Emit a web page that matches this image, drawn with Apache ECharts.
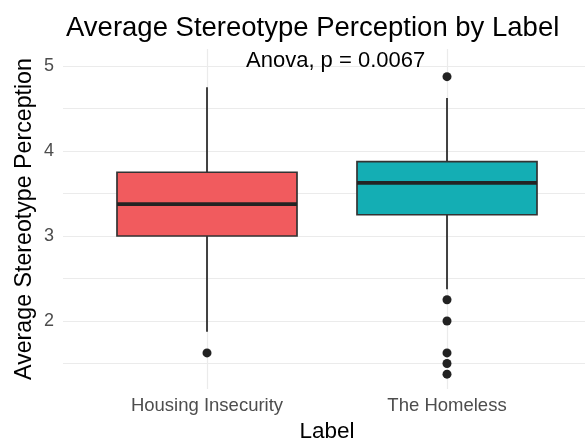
<!DOCTYPE html>
<html><head><meta charset="utf-8">
<script src="https://cdn.jsdelivr.net/npm/echarts@6/dist/echarts.min.js"></script>
<style>html,body{margin:0;padding:0;background:#fff}#c{width:585px;height:440px}</style>
</head><body><div id="c"></div>
<script>
const categories = ['Housing Insecurity', 'The Homeless'];
const whiskerLow = [1.875, 2.375];
const q1 = [3.0, 3.25];
const median = [3.375, 3.625];
const q3 = [3.75, 3.875];
const whiskerHigh = [4.75, 4.625];
const outliersHousing = [1.625];
const outliersHomeless = [4.875, 2.25, 2.0, 1.625, 1.5, 1.375];
const yTicks = [2, 3, 4, 5];
const yGrid = [1.5, 2, 2.5, 3, 3.5, 4, 4.5, 5];
const fills = ['#F15B5E', '#14AEB4'];

const boxData = categories.map((c, i) => [i, whiskerLow[i], q1[i], median[i], q3[i], whiskerHigh[i]]);
const outlierData = [];
outliersHousing.forEach(v => outlierData.push([0, v]));
outliersHomeless.forEach(v => outlierData.push([1, v]));

const FONT = '"Liberation Sans", Arial, sans-serif';
const chart = echarts.init(document.getElementById('c'));
chart.setOption({
  animation: false,
  backgroundColor: '#fff',
  title: [
    { text: 'Average Stereotype Perception by Label', left: 61, top: 9,
      textStyle: { fontFamily: FONT, fontSize: 27.5, fontWeight: 'normal', color: '#000' } },
    { text: 'Anova, p = 0.0067', left: 241, top: 45,
      textStyle: { fontFamily: FONT, fontSize: 22, fontWeight: 'normal', color: '#000' } }
  ],
  grid: { left: 63, right: -6, top: 49, bottom: 51, containLabel: false, outerBoundsMode: 'none' },
  xAxis: {
    type: 'value', min: -0.6, max: 1.6,
    name: 'Label', nameLocation: 'middle', nameGap: 31,
    nameTextStyle: { fontFamily: FONT, fontSize: 22.5, color: '#000' },
    axisLine: { show: false },
    axisTick: { show: false, customValues: [0, 1] },
    axisLabel: { customValues: [0, 1], formatter: v => categories[Math.round(v)], margin: 7,
      fontFamily: FONT, fontSize: 18.5, color: '#4D4D4D' },
    splitLine: { show: true, lineStyle: { color: '#EBEBEB', width: 1.2 } }
  },
  yAxis: {
    type: 'value', min: 1.2, max: 5.2,
    name: 'Average Stereotype Perception', nameLocation: 'middle', nameGap: 27, nameMoveOverlap: false,
    nameTextStyle: { fontFamily: FONT, fontSize: 23.2, color: '#000' },
    axisLine: { show: false },
    axisTick: { show: false, customValues: yGrid },
    axisLabel: { customValues: yTicks, margin: 9, fontFamily: FONT, fontSize: 18, color: '#4D4D4D' },
    splitLine: { show: true, lineStyle: { color: '#EBEBEB', width: 1.2 } }
  },
  series: [
    {
      type: 'custom',
      data: boxData,
      encode: { x: 0, y: [1, 2, 3, 4, 5] },
      renderItem: function (params, api) {
        const i = api.value(0);
        const x = api.coord([i, 0])[0];
        const half = api.size([0.75, 0])[0] / 2;
        const yLo = api.coord([i, api.value(1)])[1];
        const yQ1 = api.coord([i, api.value(2)])[1];
        const yMed = api.coord([i, api.value(3)])[1];
        const yQ3 = api.coord([i, api.value(4)])[1];
        const yHi = api.coord([i, api.value(5)])[1];
        const lc = '#232323';
        return {
          type: 'group',
          children: [
            { type: 'line', shape: { x1: x, y1: yHi, x2: x, y2: yQ3 }, style: { stroke: lc, lineWidth: 1.7 } },
            { type: 'line', shape: { x1: x, y1: yQ1, x2: x, y2: yLo }, style: { stroke: lc, lineWidth: 1.7 } },
            { type: 'rect', shape: { x: x - half, y: yQ3, width: half * 2, height: yQ1 - yQ3 },
              style: { fill: fills[i], stroke: '#333', lineWidth: 1.7 } },
            { type: 'line', shape: { x1: x - half, y1: yMed, x2: x + half, y2: yMed }, style: { stroke: lc, lineWidth: 3.6 } }
          ]
        };
      }
    },
    {
      type: 'scatter',
      data: outlierData,
      symbol: 'circle',
      symbolSize: 9,
      itemStyle: { color: '#222', opacity: 1 }
    }
  ]
});
</script>
</body></html>
